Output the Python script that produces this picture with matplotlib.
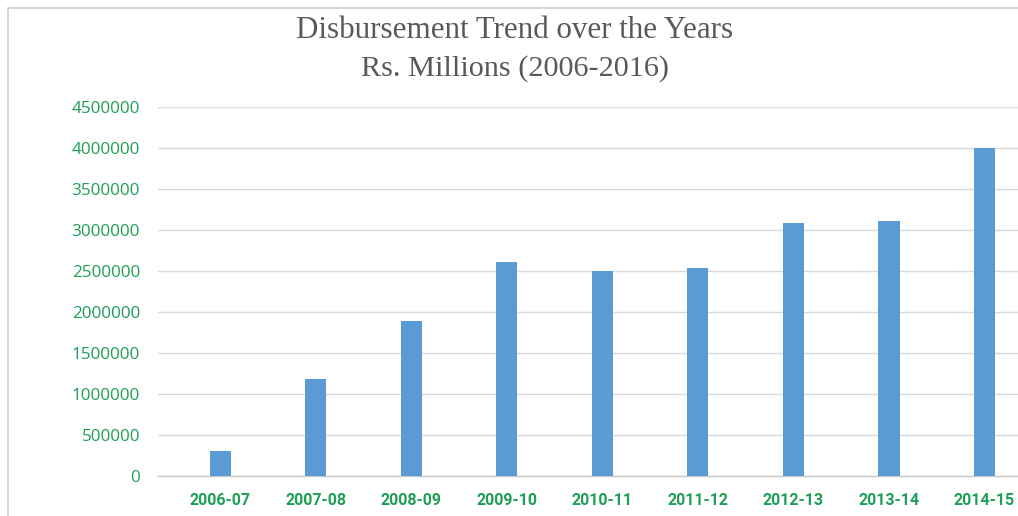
import matplotlib
matplotlib.use("Agg")
import matplotlib.pyplot as plt
from matplotlib.patches import Rectangle

years = ["2006-07", "2007-08", "2008-09", "2009-10", "2010-11",
         "2011-12", "2012-13", "2013-14", "2014-15"]
disbursement = [300000, 1183000, 1886000, 2610000, 2505000,
                2540000, 3090000, 3105000, 3995000]
yticks = [0, 500000, 1000000, 1500000, 2000000, 2500000,
          3000000, 3500000, 4000000, 4500000]

W, H = 1018, 516
fig = plt.figure(figsize=(W / 100, H / 100), dpi=100)
fig.patch.set_facecolor("white")

# chart frame
fig.patches.append(Rectangle((8 / W, -0.1), 1.2, 1 - 8 / H + 0.1,
                             transform=fig.transFigure, fill=False,
                             edgecolor="#d0d0d0", linewidth=1.2))

left, right = 158 / W, 1.0
bottom, top = 1 - 476 / H, 1 - 107 / H
ax = fig.add_axes([left, bottom, right - left, top - bottom])

x = list(range(len(years)))
ax.bar(x, disbursement, width=0.22, color="#5B9BD5", zorder=3)

ax.set_ylim(0, 4500000)
ax.set_xlim(-0.65, 8.35)
ax.set_yticks(yticks)
ax.set_yticklabels([str(v) for v in yticks])
ax.set_xticks(x)
ax.set_xticklabels(years)

green = "#1F9E55"
for lbl in ax.get_yticklabels():
    lbl.set_color(green)
    lbl.set_fontsize(12.3)
    lbl.set_family(["Open Sans", "DejaVu Sans"])
for lbl in ax.get_xticklabels():
    lbl.set_color(green)
    lbl.set_fontsize(11.5)
    lbl.set_fontweight("bold")
    lbl.set_family(["Liberation Sans Narrow", "Roboto", "DejaVu Sans"])

ax.tick_params(axis="y", length=0, pad=13)
ax.tick_params(axis="x", length=0, pad=12)
ax.grid(axis="y", color="#d9d9d9", linewidth=1.0, zorder=0)
for s in ["top", "right", "left"]:
    ax.spines[s].set_visible(False)
ax.spines["bottom"].set_color("#c8c8c8")
ax.spines["bottom"].set_linewidth(1.0)

fig.text(515 / W, 1 - 31 / H, "Disbursement Trend over the Years",
         ha="center", va="center", fontsize=22.3, color="#595959",
         family=["Liberation Serif", "DejaVu Serif"])
fig.text(515 / W, 1 - 69 / H, "Rs. Millions (2006-2016)",
         ha="center", va="center", fontsize=21.8, color="#595959",
         family=["Liberation Serif", "DejaVu Serif"])

fig.savefig("out.png", dpi=100, facecolor="white")
